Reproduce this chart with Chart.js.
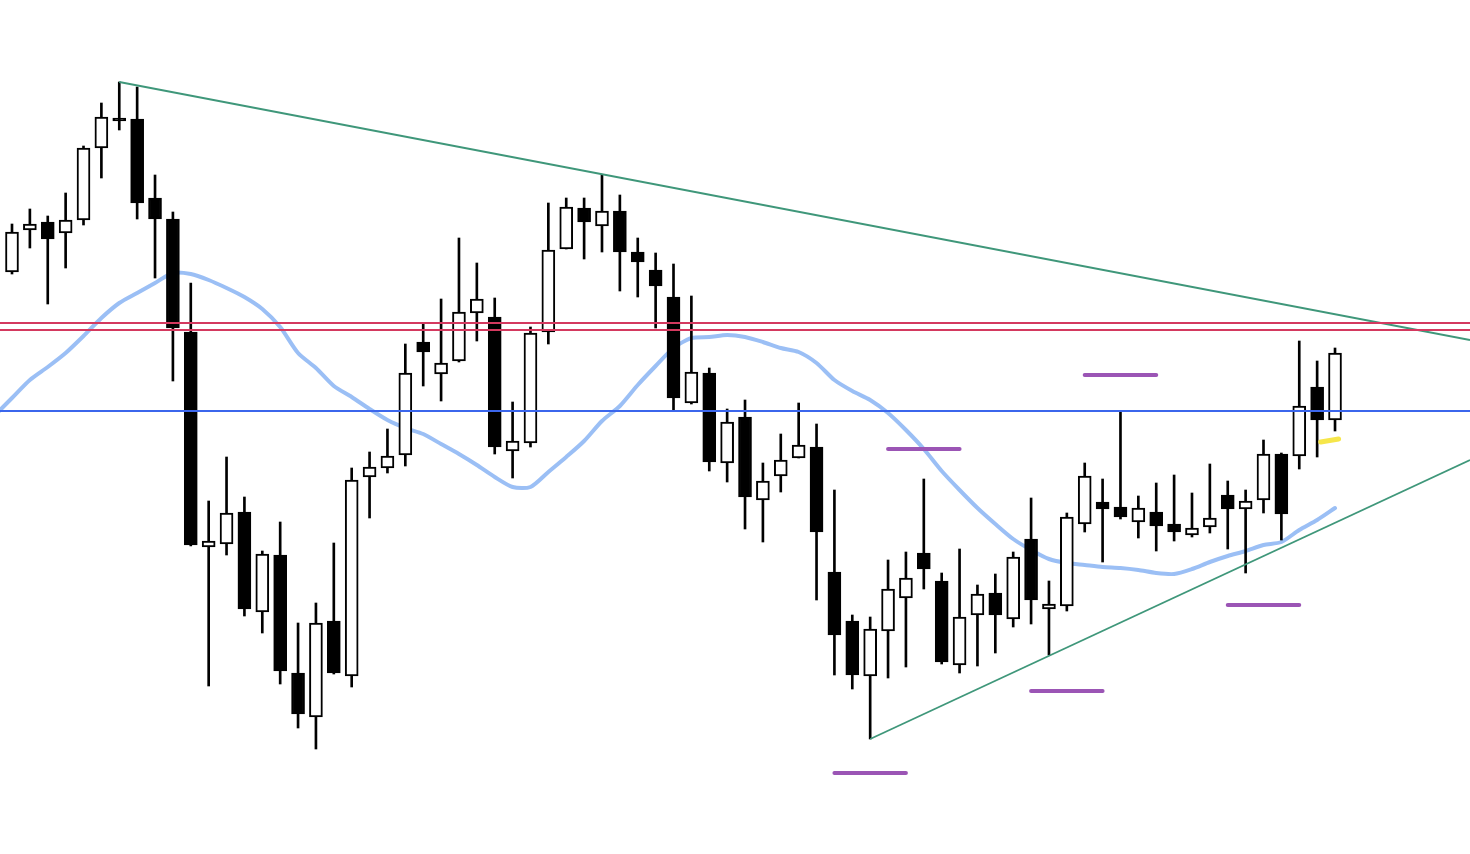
<!DOCTYPE html>
<html><head><meta charset="utf-8">
<script src="https://cdn.jsdelivr.net/npm/chart.js@4.4.0/dist/chart.umd.min.js"></script>
<style>html,body{margin:0;padding:0;background:#fff;overflow:hidden}canvas{display:block}</style>
</head><body>
<canvas id="c" width="1470" height="854"></canvas>
<script>
// ---- data (price units) ----
const opens  = [582,624,632,621,634,706,736,735,656,635, 522,307,310,342,242,299,181,137,233,178, 377,386,399,512,480,493,541,537,403,411, 522,605,646,628,643,602,584,557,451,481, 391,437,354,378,396,407,282,233,178,223, 256,301,273,189,239,261,235,315,245,248, 330,352,347,332,342,330,319,327,359,345, 354,400,398,467,434];
const highs  = [630,645,638,661,708,751,772,767,679,642, 571,353,397,357,303,332,231,251,311,386, 402,425,510,531,555,616,591,556,452,527, 651,656,656,679,659,616,601,590,558,486, 445,454,391,420,451,430,364,239,237,294, 302,375,281,305,269,280,302,356,273,341, 391,375,442,358,371,379,361,390,373,364, 414,401,513,493,506];
const lows   = [580,606,550,586,629,676,724,635,576,473, 308,168,299,238,221,170,126,105,180,167, 336,381,388,468,453,492,513,400,376,407, 510,605,595,602,563,557,526,444,450,383, 372,325,312,362,396,254,179,165,115,176, 187,265,190,181,188,201,227,230,199,243, 322,292,335,316,303,313,317,321,305,281, 341,314,385,397,423];
const closes = [622,630,615,634,706,737,733,651,635,526, 309,313,341,245,300,183,140,231,181,374, 387,398,481,502,491,542,555,407,413,521, 604,647,632,643,602,592,568,456,482,392, 432,357,373,394,409,322,219,179,225,265, 276,285,192,237,260,239,297,254,250,337, 378,345,337,346,328,322,326,336,345,353, 400,340,448,434,501];
// moving average, starting one bar before the first visible candle
const maStartIndex = -1;
const movingAvg = [438, 456,474,487,501,518,536,551,561,571,581, 580,574,566,557,545,527,501,486,468,457, 445,434,426,420,410,400,389,377,367,367, 382,397,413,433,448,469,488,506,516,517, 519,517,512,506,502,491,474,463,454,441, 424,405,383,364,346,330,315,304,295,291, 289,287,286,284,281,280,285,292,298,303, 309,312,324,334,346];
// horizontal levels
const redLevels = [531, 524];
const blueLevel = 443;
// trendlines: [startIndex, startPrice, endPrice at right edge]
const upperTrend = [6, 772, 514];
const lowerTrend = [48, 115, 394];
// purple markers: [fromIndex, toIndex, price]
const purpleMarks = [[49,53,405],[60,64,479],[46,50,81],[57,61,163],[68,72,249]];
// yellow marker: [fromIndex, toIndex, fromPrice, toPrice]
const yellowMark = [73.2, 74.2, 412, 415];

// ---- layout ----
const X_MIN = -0.671, X_MAX = 81.55;

const idx = opens.map((_, i) => i);
const bodies = idx.map(i => ({x: i, y: [opens[i], closes[i]]}));
const wicks = idx.map(i => ({x: i, y: [lows[i], highs[i]]}));
const bodyColors = idx.map(i => closes[i] >= opens[i] ? '#ffffff' : '#000000');

const lineDs = (pts, color, width, order, extra) => Object.assign({
  type: 'line', data: pts, borderColor: color, borderWidth: width,
  pointRadius: 0, fill: false, tension: 0, order: order
}, extra || {});

const datasets = [];
redLevels.forEach(v => datasets.push(lineDs([{x:X_MIN,y:v},{x:X_MAX,y:v}], '#d4395f', 1.8, 0)));
datasets.push(lineDs([{x:X_MIN,y:blueLevel},{x:X_MAX,y:blueLevel}], '#3b66ec', 2, 0));
datasets.push(lineDs([{x:upperTrend[0],y:upperTrend[1]},{x:X_MAX,y:upperTrend[2]}], '#3f977a', 1.8, 0));
datasets.push(lineDs([{x:lowerTrend[0],y:lowerTrend[1]},{x:X_MAX,y:lowerTrend[2]}], '#3f977a', 1.8, 0));
purpleMarks.forEach(m => datasets.push(lineDs([{x:m[0],y:m[2]},{x:m[1],y:m[2]}], '#9b55b5', 4, 0, {borderCapStyle:'round'})));
datasets.push(lineDs([{x:yellowMark[0],y:yellowMark[2]},{x:yellowMark[1],y:yellowMark[3]}], '#f6e64a', 5, 0, {borderCapStyle:'round'}));
datasets.push({type:'bar', data: bodies, backgroundColor: bodyColors, borderColor:'#000', borderWidth:2,
  borderSkipped:false, barThickness:13, grouped:false, order:1});
datasets.push({type:'bar', data: wicks, backgroundColor:'#000', borderWidth:0,
  barThickness:2, grouped:false, order:2});
datasets.push(lineDs(movingAvg.map((v,i)=>({x:i+maStartIndex,y:v})), '#9bbff5', 4, 3,
  {tension:0.25, borderJoinStyle:'round', borderCapStyle:'round'}));

new Chart(document.getElementById('c'), {
  type: 'bar',
  data: { datasets },
  options: {
    responsive: false, animation: false,
    layout: { padding: 0 },
    plugins: { legend: { display: false }, tooltip: { enabled: false } },
    scales: {
      x: { type: 'linear', display: false, offset: false, min: X_MIN, max: X_MAX },
      y: { type: 'linear', display: false, min: 0, max: 854 }
    }
  }
});
</script>
</body></html>
